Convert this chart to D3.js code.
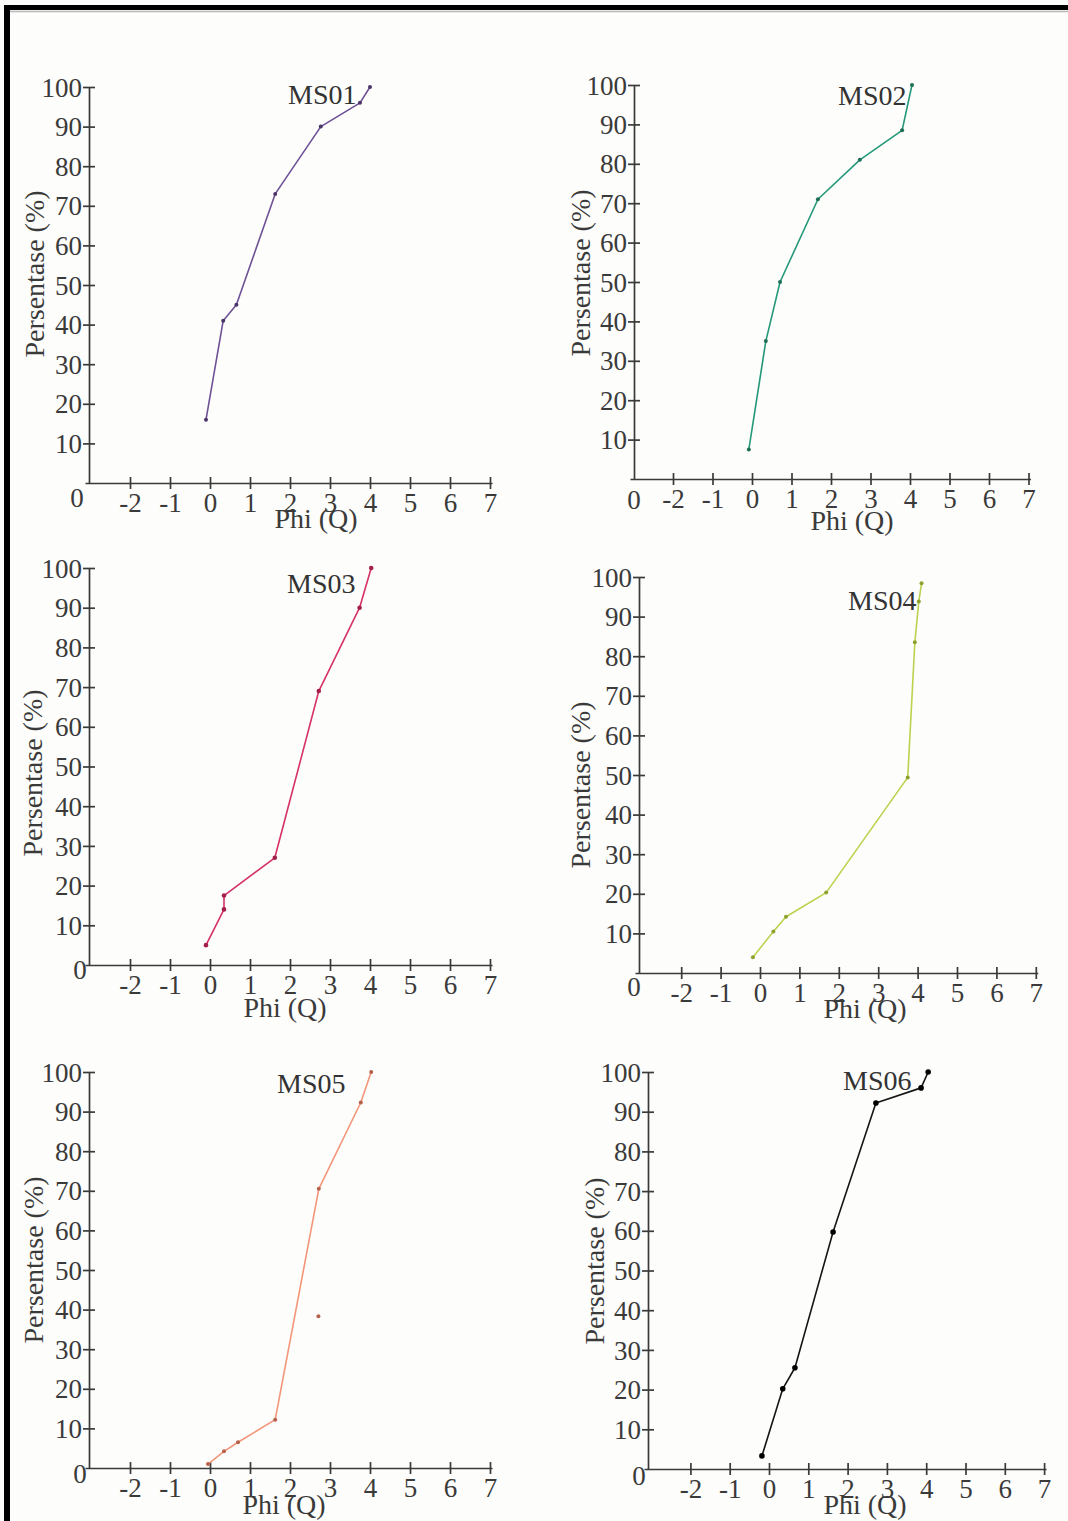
<!DOCTYPE html>
<html>
<head>
<meta charset="utf-8">
<script src="https://cdn.jsdelivr.net/npm/d3@7"></script>
<style>
  html, body { margin: 0; padding: 0; background: #fdfdfb; }
  svg { display: block; }
</style>
</head>
<body>
<svg id="chart" width="1068" height="1521"></svg>
<script>
// tick values shared by every panel
var phiTicks = [-2, -1, 0, 1, 2, 3, 4, 5, 6, 7];
var pctTicks = [10, 20, 30, 40, 50, 60, 70, 80, 90, 100];

var sampleNames = ["MS01", "MS02", "MS03", "MS04", "MS05", "MS06"];

// cumulative percentage vs phi
var phiMS01 = [-0.1, 0.33, 0.66, 1.63, 2.77, 3.75, 4.0];
var pctMS01 = [16, 41, 45, 73, 90, 96, 100];

var phiMS02 = [-0.08, 0.35, 0.71, 1.67, 2.73, 3.8, 4.05];
var pctMS02 = [7.5, 35, 50, 71, 81, 88.5, 100];

var phiMS03 = [-0.1, 0.35, 0.35, 1.62, 2.72, 3.74, 4.03];
var pctMS03 = [5, 14, 17.5, 27, 69, 90, 100];

var phiMS04 = [-0.18, 0.34, 0.66, 1.68, 3.75, 3.93, 4.03, 4.1];
var pctMS04 = [4, 10.5, 14.2, 20.3, 49.4, 83.5, 93.8, 98.4];

var phiMS05 = [-0.05, 0.35, 0.7, 1.63, 2.72, 3.77, 4.03];
var pctMS05 = [1, 4.2, 6.5, 12.2, 70.5, 92.3, 100];
// lone point in MS05 that is not on the line
var strayPhiMS05 = [2.71];
var strayPctMS05 = [38.3];

var phiMS06 = [-0.18, 0.35, 0.66, 1.63, 2.72, 3.87, 4.05];
var pctMS06 = [3.3, 20.2, 25.5, 59.7, 92.2, 96, 100];

var lineColors = ["#6f5196", "#25987a", "#d6306a", "#bcd24e", "#f3967a", "#151515"];
var dotColors  = ["#4b3468", "#1d6e55", "#a3204c", "#8ea02e", "#b5604a", "#000000"];

var series = [
    { phi: phiMS01, pct: pctMS01 },
    { phi: phiMS02, pct: pctMS02 },
    { phi: phiMS03, pct: pctMS03 },
    { phi: phiMS04, pct: pctMS04 },
    { phi: phiMS05, pct: pctMS05, strayPhi: strayPhiMS05, strayPct: strayPctMS05 },
    { phi: phiMS06, pct: pctMS06 }
];

// where each little chart sits on the page (pixels)
var panels = [
    { axisX: 89,  phi0: 210, unit: 40,   y0: 483,  y100: 87,   title: [288, 104],  yLab: [34, 274],   xLab: [316, 528],  zero: [77, 498],  dot: 2 },
    { axisX: 634, phi0: 752, unit: 39.5, y0: 479,  y100: 85,   title: [838, 105],  yLab: [580, 273],  xLab: [852, 530],  zero: [634, 500], dot: 2 },
    { axisX: 89,  phi0: 210, unit: 40,   y0: 965,  y100: 568,  title: [287, 593],  yLab: [32, 773],   xLab: [285, 1017], zero: [80, 970],  dot: 2.3 },
    { axisX: 639, phi0: 760, unit: 39.4, y0: 973,  y100: 577,  title: [848, 610],  yLab: [580, 785],  xLab: [865, 1018], zero: [634, 987], dot: 2 },
    { axisX: 89,  phi0: 210, unit: 40,   y0: 1468, y100: 1072, title: [277, 1093], yLab: [33, 1260],  xLab: [284, 1514], zero: [80, 1474], dot: 2 },
    { axisX: 648, phi0: 769, unit: 39.3, y0: 1469, y100: 1072, title: [843, 1090], yLab: [594, 1261], xLab: [865, 1514], zero: [639, 1476], dot: 2.8 }
];

var FONT = "'Liberation Serif', 'Times New Roman', serif";
var svg = d3.select("#chart");

// page frame (scanned border on the top and left)
svg.append("rect").attr("x", 5).attr("y", 5).attr("width", 1063).attr("height", 5).attr("fill", "#000");
svg.append("line").attr("x1", 10).attr("x2", 1068).attr("y1", 11.5).attr("y2", 11.5)
    .attr("stroke", "#b8b8b8").attr("stroke-width", 1.5);
svg.append("rect").attr("x", 4).attr("y", 5).attr("width", 6).attr("height", 1516).attr("fill", "#000");

function drawPanel(i) {
    var p = panels[i];
    var s = series[i];
    var left = p.axisX - 4;
    var x = d3.scaleLinear()
        .domain([(left - p.phi0) / p.unit, 7.05])
        .range([left, p.phi0 + 7.05 * p.unit]);
    var y = d3.scaleLinear().domain([0, 100]).range([p.y0, p.y100]);

    var g = svg.append("g");

    var gx = g.append("g")
        .attr("transform", "translate(0," + p.y0 + ")")
        .call(d3.axisBottom(x).tickValues(phiTicks).tickFormat(function(d) { return String(d); }).tickSizeOuter(0));
    var gy = g.append("g")
        .attr("transform", "translate(" + p.axisX + ",0)")
        .call(d3.axisLeft(y).tickValues(pctTicks).tickSizeOuter(0));

    // ticks cross the axis line on both sides
    gx.selectAll(".tick line").attr("y1", -6).attr("y2", 6);
    gx.selectAll(".tick text").attr("y", 10);
    gy.selectAll(".tick line").attr("x1", -6).attr("x2", 6);
    gy.selectAll(".tick text").attr("x", -7).attr("dy", "0.34em");

    [gx, gy].forEach(function(a) {
        a.attr("font-family", FONT).attr("font-size", 27).style("color", "#3a3a3a");
        a.selectAll("path, line").attr("stroke-width", 1.7);
    });

    // the 0 of the percentage axis sits near the origin
    g.append("text")
        .attr("x", p.zero[0]).attr("y", p.zero[1]).attr("dy", "0.34em")
        .attr("text-anchor", "middle")
        .attr("font-family", FONT).attr("font-size", 27).attr("fill", "#3a3a3a")
        .text("0");

    g.append("text")
        .attr("transform", "translate(" + p.yLab[0] + "," + p.yLab[1] + ") rotate(-90)")
        .attr("text-anchor", "middle").attr("dy", "0.34em")
        .attr("font-family", FONT).attr("font-size", 28).attr("fill", "#3a3a3a")
        .text("Persentase (%)");

    g.append("text")
        .attr("x", p.xLab[0]).attr("y", p.xLab[1])
        .attr("text-anchor", "middle")
        .attr("font-family", FONT).attr("font-size", 28).attr("fill", "#3a3a3a")
        .text("Phi (Q)");

    var pts = d3.zip(s.phi, s.pct);
    var line = d3.line().x(function(d) { return x(d[0]); }).y(function(d) { return y(d[1]); });

    g.append("path")
        .datum(pts)
        .attr("d", line)
        .attr("fill", "none")
        .attr("stroke", lineColors[i])
        .attr("stroke-width", 1.6)
        .attr("stroke-linejoin", "round");

    var dots = pts.slice();
    if (s.strayPhi) dots = dots.concat(d3.zip(s.strayPhi, s.strayPct));
    g.selectAll("circle")
        .data(dots)
        .join("circle")
        .attr("cx", function(d) { return x(d[0]); })
        .attr("cy", function(d) { return y(d[1]); })
        .attr("r", p.dot)
        .attr("fill", dotColors[i]);

    g.append("text")
        .attr("x", p.title[0]).attr("y", p.title[1])
        .attr("font-family", FONT).attr("font-size", 28).attr("fill", "#333")
        .text(sampleNames[i]);
}

for (var i = 0; i < panels.length; i++) {
    drawPanel(i);
}
</script>
</body>
</html>
